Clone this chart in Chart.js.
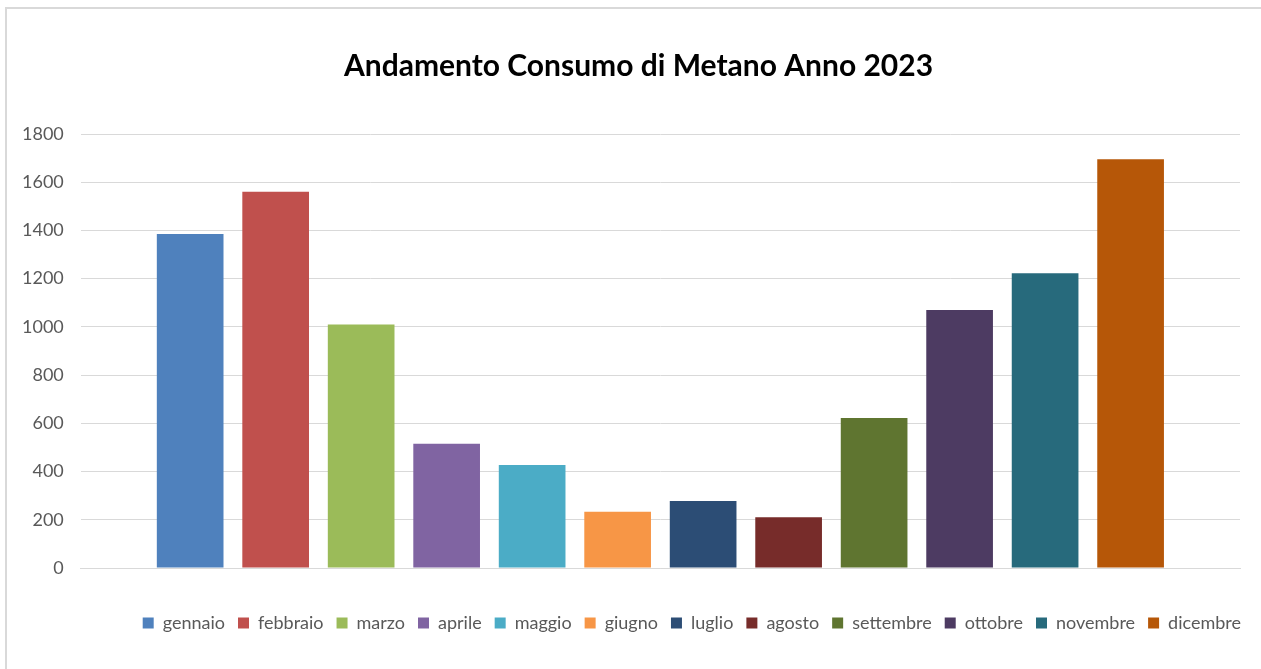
<!DOCTYPE html>
<html>
<head>
<meta charset="utf-8">
<script src="https://cdn.jsdelivr.net/npm/chart.js@4"></script>
<style>
html,body{margin:0;padding:0;background:#fff;}
#wrap{position:absolute;left:0;top:0;width:1261px;height:669px;}
#frame{position:absolute;left:5px;top:7px;width:1300px;height:700px;border-left:2px solid #d9d9d9;border-top:2px solid #d9d9d9;}
canvas{position:absolute;left:0;top:0;}
</style>
</head>
<body>
<div id="wrap">
<div id="frame"></div>
<canvas id="c" width="1261" height="669"></canvas>
</div>
<script>
const title = 'Andamento Consumo di Metano Anno 2023';
const months = ['gennaio','febbraio','marzo','aprile','maggio','giugno','luglio','agosto','settembre','ottobre','novembre','dicembre'];
const values = [1385, 1560, 1010, 515, 427, 233, 278, 211, 622, 1070, 1222, 1695];
const colors = ['#4F81BD','#C0504D','#9BBB59','#8064A2','#4BACC6','#F79646','#2C4D75','#772C2A','#5F7530','#4D3B62','#276A7C','#B65708'];
const yTicks = [0,200,400,600,800,1000,1200,1400,1600,1800];

const datasets = months.map((m,i)=>({
  label: m,
  data: [values[i]],
  backgroundColor: colors[i],
  borderWidth: 0,
  barPercentage: 0.78,
  categoryPercentage: 0.885
}));

const shiftBoxes = {
  id: 'shiftBoxes',
  afterLayout(chart) {
    const t = chart.titleBlock;
    if (t) { t.left += 16; t.right += 16; }
    const l = chart.legend;
    if (l) { l.left += 14; l.right += 14; }
  }
};

new Chart(document.getElementById('c'), {
  type: 'bar',
  data: { labels: [''], datasets },
  plugins: [shiftBoxes],
  options: {
    responsive: false,
    animation: false,
    layout: { padding: { left: 5, right: 21, top: 48, bottom: 27 } },
    plugins: {
      title: {
        display: true,
        text: title,
        color: '#000',
        font: { family: 'Lato', size: 30, weight: 'bold', lineHeight: 1.2 },
        padding: { top: 0, bottom: 50 }
      },
      legend: {
        position: 'bottom',
        align: 'end',
        labels: {
          color: '#595959',
          font: { family: 'Lato', size: 18 },
          boxWidth: 11,
          boxHeight: 11,
          padding: 13
        }
      },
      tooltip: { enabled: false }
    },
    scales: {
      x: {
        grid: { display: false, drawTicks: false },
        border: { display: true, color: '#d9d9d9', width: 1 },
        ticks: { display: false },
        afterFit: (s) => { s.height = 33; }
      },
      y: {
        min: 0,
        max: 1800,
        afterBuildTicks: (ax) => { ax.ticks = yTicks.map(v=>({value:v})); },
        grid: { color: '#d9d9d9', drawTicks: false },
        border: { display: false },
        ticks: { color: '#595959', font: { family: 'Lato', size: 18 }, padding: 17,
                 callback: (v) => String(v) }
      }
    }
  }
});
</script>
</body>
</html>
